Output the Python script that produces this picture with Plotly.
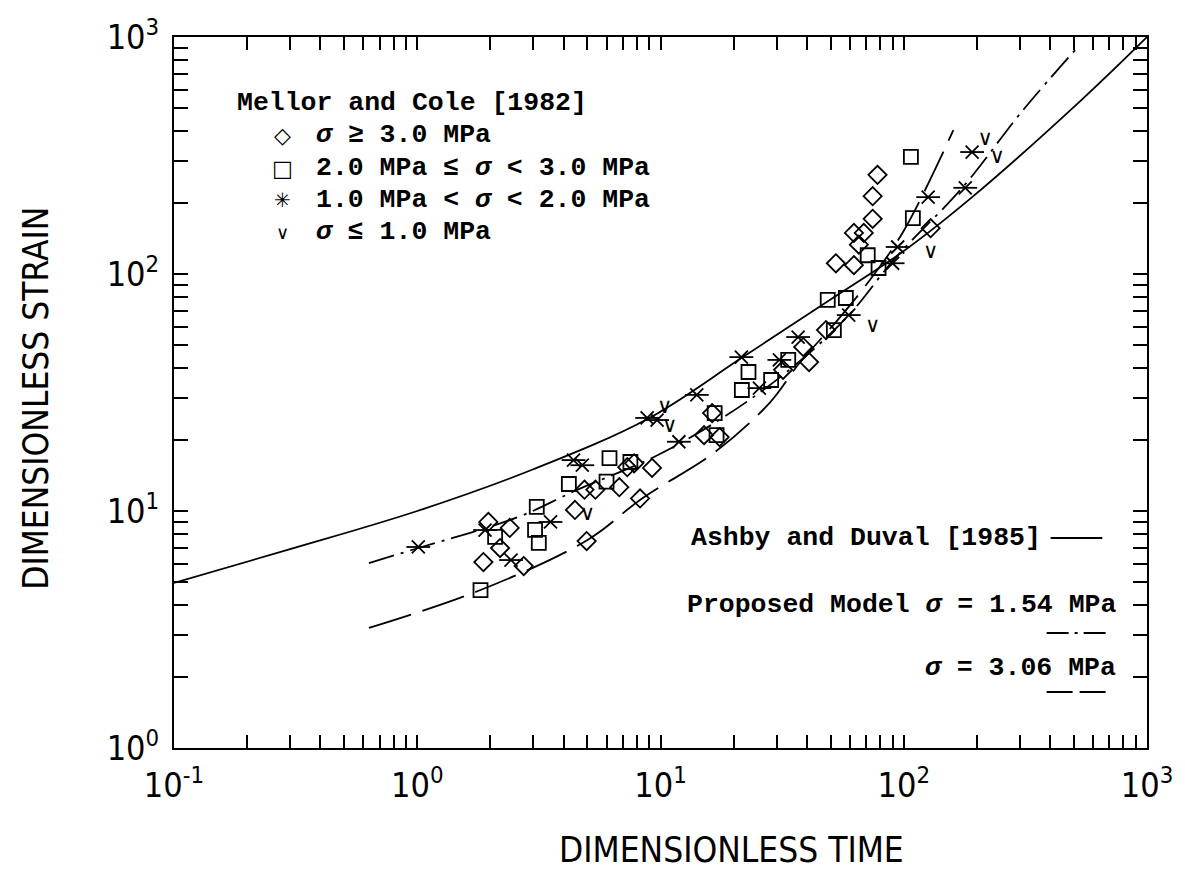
import plotly.graph_objects as go

# ---- Mellor and Cole [1982] creep tests (dimensionless time, dimensionless strain) ----
# sigma >= 3.0 MPa
diamond_t = [1.96, 2.19, 1.87, 2.74, 2.40, 4.45, 4.97, 4.87, 5.40, 6.77, 8.24, 9.23, 7.79, 7.30,
             15.1, 16.3, 17.5, 52.6, 62.4, 40.8, 38.6, 47.9, 31.9, 78.0, 74.5, 74.5, 62.4, 68.5,
             65.4, 129]
diamond_s = [8.99, 6.98, 6.09, 5.86, 8.48, 10.1, 7.47, 12.3, 12.3, 12.6, 11.3, 15.2, 15.9, 15.3,
             20.9, 25.9, 20.5, 111, 109, 42.5, 49.2, 58.0, 39.4, 262, 213, 171, 149, 149,
             133, 156]
# 2.0 MPa <= sigma < 3.0 MPa
square_t = [1.82, 2.09, 3.10, 3.05, 3.16, 4.20, 6.17, 6.00, 7.52, 17.0, 16.7, 21.6, 23.0, 28.5,
            48.7, 57.8, 51.6, 71.1, 109, 107, 78.8, 33.5]
square_s = [4.64, 7.77, 10.4, 8.32, 7.33, 13.0, 16.7, 13.3, 16.1, 20.9, 25.9, 32.4, 38.6, 35.7,
            77.7, 79.2, 58.0, 120, 172, 312, 106, 43.4]
# 1.0 MPa < sigma < 2.0 MPa
star_t = [1.01, 1.90, 2.43, 3.53, 4.39, 4.77, 8.81, 9.68, 11.9, 14.1, 21.5, 30.8, 25.5, 36.8,
          59.4, 90.0, 94.4, 126, 179, 191]
star_s = [7.05, 8.31, 6.21, 8.99, 16.4, 15.6, 24.7, 24.2, 19.6, 30.9, 44.6, 43.4, 33.0, 54.2,
          67.1, 111, 130, 211, 231, 327]
# sigma <= 1.0 MPa
check_t = [5.01, 10.4, 10.9, 74.5, 129, 216, 242]
check_s = [9.62, 27.2, 22.6, 59.8, 123, 367, 309]

# ---- model curves ----
ashby_t = [0.1, 0.3, 1.0, 3.0, 9.0, 21.5, 50, 100, 191, 537, 1000]
ashby_s = [4.97, 6.9, 10.0, 15.0, 24.7, 44.2, 78, 125, 211, 542, 1000]

model154_t = [0.633, 1.01, 2.60, 4.56, 9.4, 18.2, 33.0, 58.0, 92.5, 174, 305, 528]
model154_s = [6.03, 6.98, 9.43, 12.3, 16.9, 24.9, 38.6, 65.2, 117, 231, 483, 925]

model306_t = [0.633, 1.82, 5.01, 8.4, 16.6, 28.1, 37.2, 52.7, 70.0, 98.8, 160]
model306_s = [3.21, 4.64, 7.55, 11.3, 17.6, 28.6, 42.0, 62.8, 89.9, 149, 405]

# ---- axes ----
x_decades = [0.1, 1, 10, 100, 1000]
x_decade_labels = ["10<sup>-1</sup>", "10<sup>0</sup>", "10<sup>1</sup>", "10<sup>2</sup>", "10<sup>3</sup>"]
y_decades = [1, 10, 100, 1000]
y_decade_labels = ["10<sup>0</sup>", "10<sup>1</sup>", "10<sup>2</sup>", "10<sup>3</sup>"]


def minor_ticks(decs):
    return [d * k for d in decs[:-1] for k in range(2, 10)]


INK = "black"
fig = go.Figure()

curve_line = dict(color=INK, width=1.8, shape="spline", smoothing=1.0)
fig.add_trace(go.Scatter(x=ashby_t, y=ashby_s, mode="lines", line=curve_line, hoverinfo="skip"))
fig.add_trace(go.Scatter(x=model154_t, y=model154_s, mode="lines",
                         line=dict(curve_line, dash="26px,7px,3px,7px"), hoverinfo="skip"))
fig.add_trace(go.Scatter(x=model306_t, y=model306_s, mode="lines",
                         line=dict(curve_line, dash="44px,12px"), hoverinfo="skip"))

fig.add_trace(go.Scatter(x=diamond_t, y=diamond_s, mode="markers",
                         marker=dict(symbol="diamond-open", size=14, color=INK, line=dict(width=1.8))))
fig.add_trace(go.Scatter(x=square_t, y=square_s, mode="markers",
                         marker=dict(symbol="square-open", size=14, color=INK, line=dict(width=1.8))))
# six-armed star: diagonal cross plus horizontal bar
fig.add_trace(go.Scatter(x=star_t, y=star_s, mode="markers",
                         marker=dict(symbol="x-thin-open", size=13, color=INK, line=dict(width=1.8, color=INK))))
fig.add_trace(go.Scatter(x=star_t, y=star_s, mode="markers",
                         marker=dict(symbol="line-ew-open", size=17, color=INK, line=dict(width=1.8, color=INK))))
CHECK = "∨"
fig.add_trace(go.Scatter(x=check_t, y=check_s, mode="text", text=[CHECK] * len(check_t),
                         textposition="middle center",
                         textfont=dict(family="DejaVu Sans", size=21, color=INK)))

# ---- layout ----
W, H = 1185, 894
L, R, T, B = 174, 1153, 37, 748


def pxx(x):
    return (x - L) / (R - L)


def pxy(y):
    return (B - y) / (B - T)


tick_font = dict(family="DejaVu Sans Condensed, Liberation Sans Narrow, DejaVu Sans", size=34, color=INK)
axis_common = dict(type="log", showline=True, linecolor=INK, linewidth=2, mirror="ticks",
                   ticks="inside", tickcolor=INK, tickwidth=1.6, showgrid=False, zeroline=False,
                   tickmode="array", tickfont=tick_font)

fig.update_layout(
    width=W, height=H,
    margin=dict(l=L, r=W - R, t=T, b=H - B),
    paper_bgcolor="white", plot_bgcolor="white",
    showlegend=False,
    xaxis=dict(range=[-1, 3], tickvals=x_decades, ticktext=x_decade_labels, ticklen=13, ticklabelstandoff=6,
               minor=dict(tickmode="array", tickvals=minor_ticks(x_decades), ticks="inside", ticklen=13,
                          tickwidth=1.6, tickcolor=INK, showgrid=False),
               **axis_common),
    yaxis=dict(range=[0, 3], tickvals=y_decades, ticktext=y_decade_labels, ticklen=14, ticklabelstandoff=6,
               minor=dict(tickmode="array", tickvals=minor_ticks(y_decades), ticks="inside", ticklen=14,
                          tickwidth=1.6, tickcolor=INK, showgrid=False),
               **axis_common),
)

mono = dict(family="Liberation Mono, DejaVu Sans Mono, monospace", size=26.5, color=INK)
title_font = dict(family="DejaVu Sans Condensed, Liberation Sans Narrow, DejaVu Sans", size=35, color=INK)

annotations = [
    dict(x=pxx(735), y=pxy(850), text="DIMENSIONLESS TIME", font=title_font, xanchor="center", yanchor="middle"),
    dict(x=pxx(35), y=pxy(398), text="DIMENSIONLESS STRAIN", textangle=-90, font=title_font,
         xanchor="center", yanchor="middle"),
    dict(x=pxx(235), y=pxy(103), text="<b>Mellor and Cole [1982]</b>", font=mono, xanchor="left", yanchor="middle"),
]

legend_symbols = ["◇", "□", "✳", CHECK]
legend_sizes = [22, 22, 20, 18]
legend_texts = ["<b><i>σ</i> ≥ 3.0 MPa</b>", "<b>2.0 MPa ≤ <i>σ</i> < 3.0 MPa</b>",
                "<b>1.0 MPa < <i>σ</i> < 2.0 MPa</b>", "<b><i>σ</i> ≤ 1.0 MPa</b>"]
legend_rows = [135, 168, 200, 232]
for sym, sz, txt, yy in zip(legend_symbols, legend_sizes, legend_texts, legend_rows):
    annotations.append(dict(x=pxx(283), y=pxy(yy), text=sym, xanchor="center", yanchor="middle",
                            font=dict(family="DejaVu Sans", size=sz, color=INK)))
    annotations.append(dict(x=pxx(315), y=pxy(yy), text=txt, xanchor="left", yanchor="middle", font=mono))

annotations += [
    dict(x=pxx(1048), y=pxy(538), text="<b>Ashby and Duval [1985]</b>", font=mono, xanchor="right", yanchor="middle"),
    dict(x=pxx(1124), y=pxy(605), text="<b>Proposed Model <i>σ</i> = 1.54 MPa</b>", font=mono,
         xanchor="right", yanchor="middle"),
    dict(x=pxx(1124), y=pxy(668), text="<b><i>σ</i> = 3.06 MPa</b>", font=mono, xanchor="right", yanchor="middle"),
]
for a in annotations:
    a.update(xref="paper", yref="paper", showarrow=False)
fig.update_layout(annotations=annotations)

# legend sample lines for the model curves
samples = [(1056, 1108, 538, "solid"), (1052, 1112, 633, "22px,6px,3px,6px"), (1052, 1112, 692, "26px,7px")]
for x0, x1, yy, dash in samples:
    fig.add_shape(type="line", xref="paper", yref="paper", x0=pxx(x0), x1=pxx(x1), y0=pxy(yy), y1=pxy(yy),
                  line=dict(color=INK, width=2, dash=dash))

fig.write_html("out.html")
